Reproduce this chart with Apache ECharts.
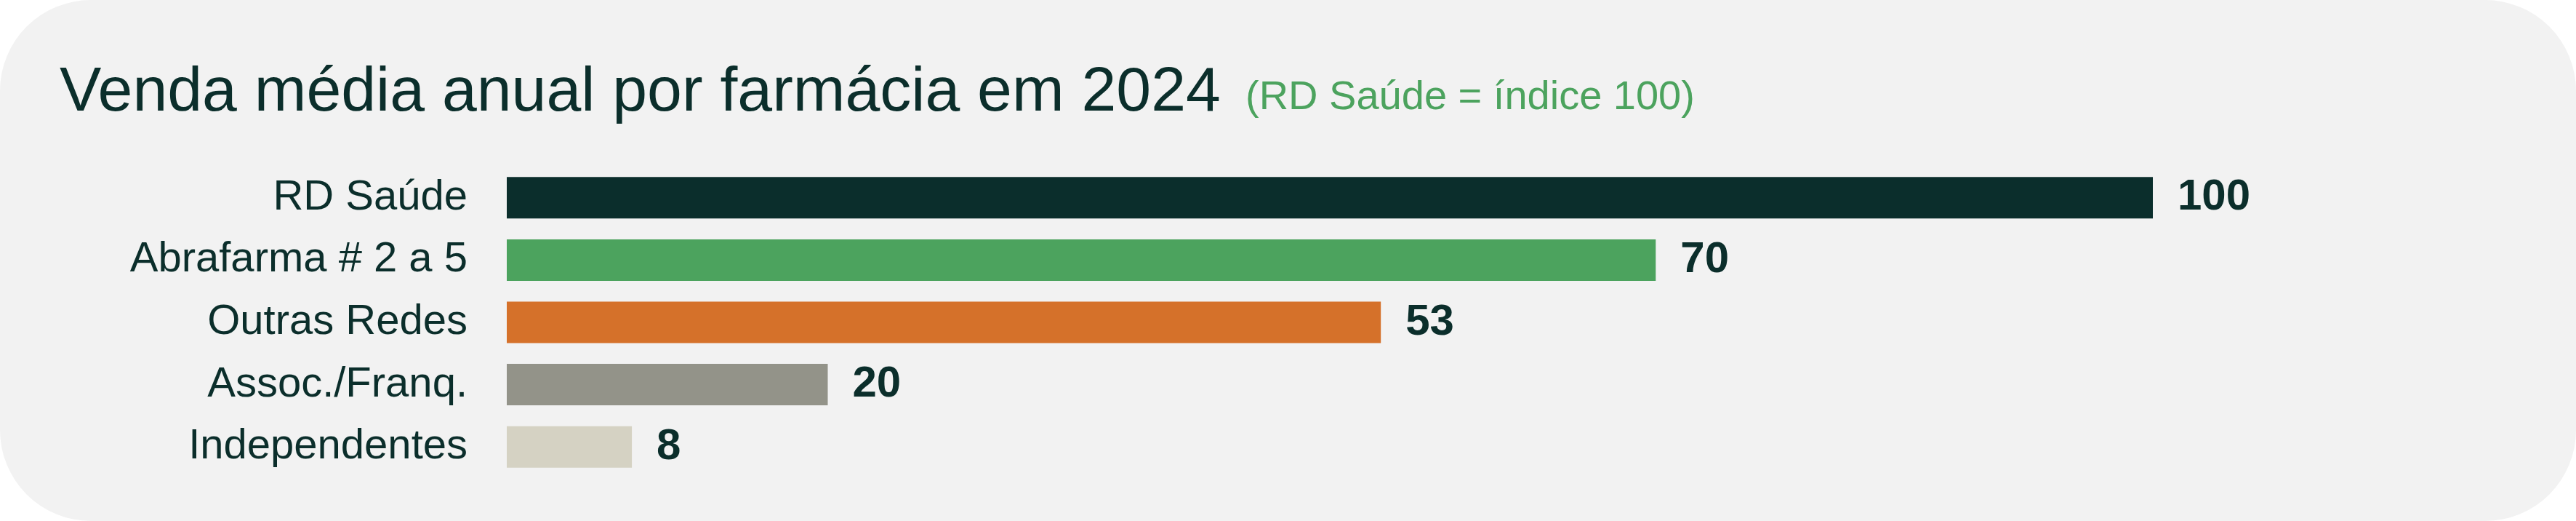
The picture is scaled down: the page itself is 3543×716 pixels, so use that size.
<!DOCTYPE html>
<html>
<head>
<meta charset="utf-8">
<script src="https://cdn.jsdelivr.net/npm/echarts@6/dist/echarts.min.js"></script>
<style>
  html, body { margin: 0; padding: 0; background: #ffffff; }
  #chart { width: 3543px; height: 716px; background: #f2f2f2; border-radius: 125px; overflow: hidden; }
</style>
</head>
<body>
<div id="chart"></div>
<script>
const categories = ['RD Saúde', 'Abrafarma # 2 a 5', 'Outras Redes', 'Assoc./Franq.', 'Independentes'];
const values = [100, 69.8, 53.1, 19.5, 7.6];
const barColors = ['#0b2e2c', '#4ca35e', '#d5712a', '#939389', '#d5d2c3'];
const titleText = 'Venda média anual por farmácia em 2024';
const subtitleText = '(RD Saúde = índice 100)';

const dark = '#0b2e2b';
const font = '"Liberation Sans", Arial, Helvetica, sans-serif';

const chart = echarts.init(document.getElementById('chart'), null, { renderer: 'canvas' });
chart.setOption({
  backgroundColor: 'transparent',
  animation: false,
  textStyle: { fontFamily: font },
  title: [
    {
      text: titleText,
      left: 82, top: 85, padding: 0,
      textStyle: { fontSize: 86, fontWeight: 'normal', color: dark, fontFamily: font }
    },
    {
      text: subtitleText,
      left: 1713, top: 107, padding: 0,
      textStyle: { fontSize: 56, fontWeight: 'normal', color: '#4ca35e', fontFamily: font }
    }
  ],
  grid: { left: 697, right: 582, top: 229, bottom: 59, containLabel: false },
  xAxis: {
    type: 'value', min: 0, max: 100, show: false
  },
  yAxis: {
    type: 'category', data: categories, inverse: true,
    axisLine: { show: false }, axisTick: { show: false }, splitLine: { show: false },
    axisLabel: { fontSize: 58, color: dark, margin: 54, fontFamily: font }
  },
  series: [{
    type: 'bar',
    data: values.map((v, i) => ({ value: v, itemStyle: { color: barColors[i] } })),
    barWidth: 57,
    label: {
      show: true, position: 'right', distance: 34,
      formatter: p => String(Math.round(p.value)),
      fontSize: 60, fontWeight: 'bold', color: dark, fontFamily: font
    }
  }]
});
</script>
</body>
</html>
